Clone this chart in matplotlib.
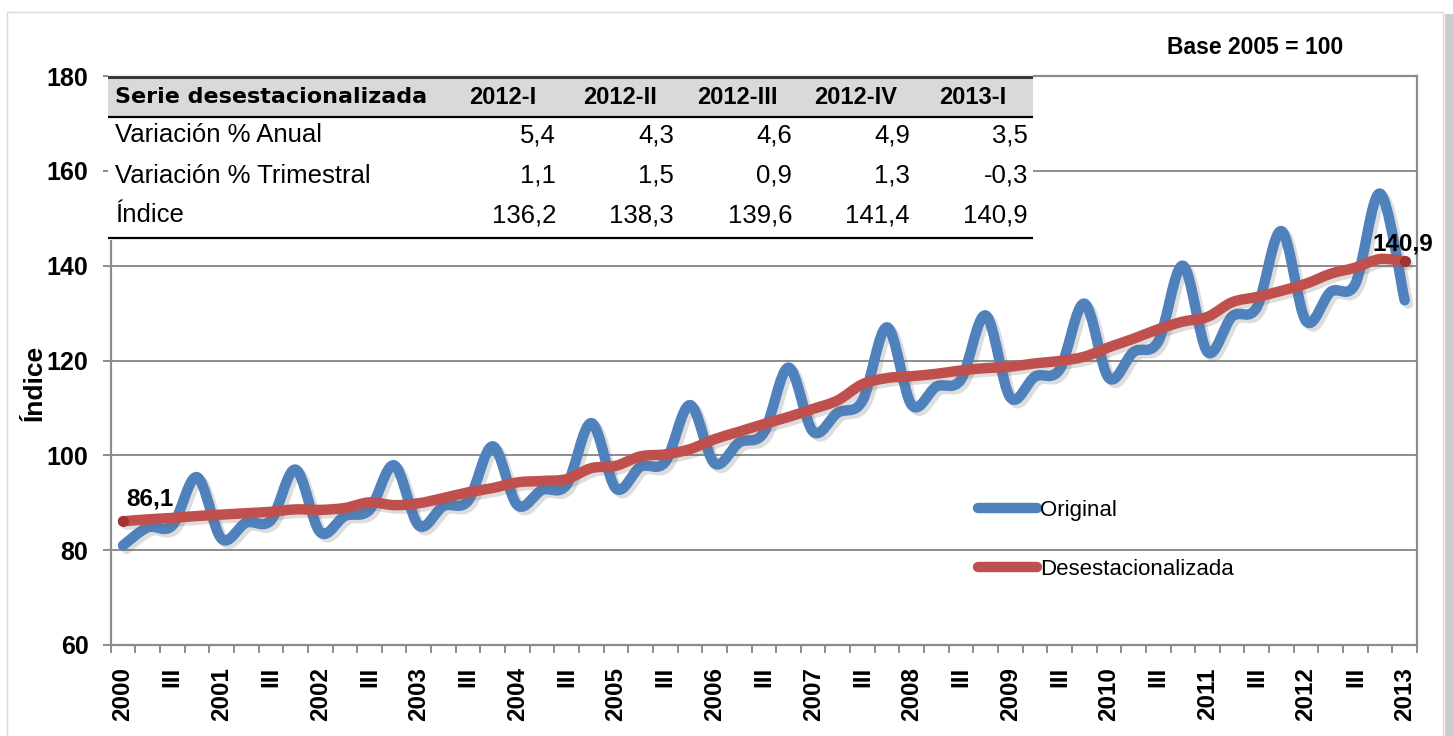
import numpy as np
import matplotlib
matplotlib.use("Agg")
import matplotlib.pyplot as plt
from matplotlib.path import Path
from matplotlib.patches import PathPatch, Rectangle
from matplotlib.lines import Line2D
import matplotlib.patheffects as pe

plt.rcParams['font.family'] = ['Liberation Sans', 'DejaVu Sans']

# quarterly series 2000-I .. 2013-I
years = list(range(2000, 2014))
original = [81.0, 84.8, 85.2, 95.4,
            82.4, 85.8, 86.3, 97.0,
            83.8, 87.2, 88.5, 97.9,
            85.2, 89.3, 90.4, 101.9,
            89.5, 92.7, 93.8, 106.8,
            93.0, 97.6, 98.6, 110.6,
            98.3, 102.7, 104.8, 118.5,
            105.0, 109.0, 111.5, 127.0,
            110.6, 114.5, 116.0, 129.5,
            112.2, 116.6, 118.1, 132.0,
            116.3, 121.8, 124.0, 140.0,
            121.8, 129.3, 131.2, 147.3,
            128.3, 134.5, 136.2, 155.2,
            132.7]
desest = [86.1, 86.5, 86.8, 87.2,
          87.5, 87.8, 88.1, 88.6,
          88.5, 88.9, 90.1, 89.5,
          89.9, 91.0, 92.2, 93.1,
          94.3, 94.6, 95.0, 97.3,
          97.8, 99.8, 100.2, 101.3,
          103.4, 105.0, 106.6, 108.1,
          109.8, 111.6, 115.0, 116.3,
          116.7, 117.2, 117.9, 118.4,
          118.7, 119.4, 119.9, 120.8,
          122.8, 124.6, 126.6, 128.2,
          129.2, 132.3, 133.4, 134.7,
          136.2, 138.3, 139.6, 141.4,
          140.9]

# table
tab_cols = ["2012-I", "2012-II", "2012-III", "2012-IV", "2013-I"]
tab_rows = ["Variación % Anual", "Variación % Trimestral", "Índice"]
tab_vals = [["5,4", "4,3", "4,6", "4,9", "3,5"],
            ["1,1", "1,5", "0,9", "1,3", "-0,3"],
            ["136,2", "138,3", "139,6", "141,4", "140,9"]]

W, H = 1453, 736
def fx(x): return x / W
def fy(y): return 1 - y / H

blue = "#4f81bd"
red = "#c0504d"
grid_c = "#8c8c8c"

fig = plt.figure(figsize=(W / 100, H / 100), dpi=100)

# outer frame
fig.patches.append(Rectangle((fx(7), fy(760)), fx(1443) - fx(7), fy(12) - fy(760),
                             transform=fig.transFigure, fill=False, ec="#d9d9d9", lw=1))
fig.patches.append(Rectangle((fx(1445), 0), fx(1453) - fx(1445), fy(14),
                             transform=fig.transFigure, fc="#cccccc", ec="none"))

ax = fig.add_axes([fx(110.7), fy(645), fx(1417) - fx(110.7), fy(76) - fy(645)])
n = len(original)
x = np.arange(n)


def smooth_path(xs, ys):
    verts = [(xs[0], ys[0])]
    codes = [Path.MOVETO]
    m = len(xs)
    for i in range(m - 1):
        xa, ya = (xs[i - 1], ys[i - 1]) if i > 0 else (xs[i], ys[i])
        xb, yb = (xs[i + 2], ys[i + 2]) if i < m - 2 else (xs[i + 1], ys[i + 1])
        c1 = (xs[i] + (xs[i + 1] - xa) / 6, ys[i] + (ys[i + 1] - ya) / 6)
        c2 = (xs[i + 1] - (xb - xs[i]) / 6, ys[i + 1] - (yb - ys[i]) / 6)
        verts += [c1, c2, (xs[i + 1], ys[i + 1])]
        codes += [Path.CURVE4] * 3
    return Path(verts, codes)


shadow = [pe.SimpleLineShadow(offset=(2.5, -2.5), shadow_color="#666666", alpha=0.22), pe.Normal()]
for ys, c in [(original, blue), (desest, red)]:
    patch = PathPatch(smooth_path(x, ys), fill=False, ec=c, lw=7.5,
                      capstyle="round", joinstyle="round", zorder=3)
    patch.set_path_effects(shadow)
    ax.add_patch(patch)

ax.plot([0, n - 1], [desest[0], desest[-1]], "o", ms=7, color="#9e3532", zorder=4)

lab = dict(fontsize=17.5, fontweight="bold", ha="center", va="center",
           textcoords="offset pixels", zorder=6)
ax.annotate(f"{desest[0]:.1f}".replace(".", ","), xy=(0, desest[0]), xytext=(27, 22), **lab)
ax.annotate(f"{desest[-1]:.1f}".replace(".", ","), xy=(n - 1, desest[-1]), xytext=(-2, 17), **lab)

ax.set_xlim(-0.5, n - 0.5)
ax.set_ylim(60, 180)
ax.set_yticks(range(60, 181, 20))
ax.yaxis.grid(True, color=grid_c, lw=1.4)
ax.set_axisbelow(True)

labels = []
for i in range(n):
    if i % 4 == 0:
        labels.append(str(years[i // 4]))
    elif i % 4 == 2:
        labels.append("III")
    else:
        labels.append("")
ax.set_xticks(x)
ax.set_xticklabels(labels, rotation=90, fontsize=17.5, fontweight="bold", va="top")
ax.set_xticks(np.arange(-0.5, n, 1), minor=True)
ax.tick_params(axis="x", which="major", length=0, pad=16)
ax.tick_params(axis="x", which="minor", length=6, width=1.4, color=grid_c)
ax.tick_params(axis="y", length=6, width=1.4, color=grid_c, pad=10, labelsize=18)
for t in ax.get_yticklabels():
    t.set_fontweight("bold")
for s in ax.spines.values():
    s.set_color(grid_c)
    s.set_linewidth(1.6)

fig.text(fx(35), fy(383), "Índice", rotation=90, fontsize=19, fontweight="bold",
         ha="center", va="center")
fig.text(fx(1255), fy(47), "Base 2005 = 100", fontsize=16.5, fontweight="bold",
         ha="center", va="center")

handles = [Line2D([], [], color=blue, lw=7.5, solid_capstyle="round"),
           Line2D([], [], color=red, lw=7.5, solid_capstyle="round")]
ax.legend(handles, ["Original", "Desestacionalizada"], loc="upper left",
          bbox_to_anchor=(fx(978), fy(500)), bbox_transform=fig.transFigure,
          frameon=False, fontsize=16, handlelength=2.65, handletextpad=0.15,
          labelspacing=1.7, borderpad=0, borderaxespad=0)

# table overlay
tax = fig.add_axes([fx(108), fy(240), fx(1033) - fx(108), fy(75) - fy(240)])
tax.set_xlim(108, 1033)
tax.set_ylim(240, 75)
tax.axis("off")
tax.add_patch(Rectangle((108, 75), 925, 165, fc="white", ec="none"))
tax.add_patch(Rectangle((108, 77), 925, 40, fc="#d9d9d9", ec="none"))
tax.plot([108, 1033], [76.5, 76.5], color="#3a3a3a", lw=2.2)
tax.plot([108, 1033], [117, 117], color="black", lw=1.6)
tax.plot([108, 1033], [238, 238], color="black", lw=1.6)

tax.text(115, 97, "Serie desestacionalizada", fontsize=16, fontweight="bold",
         family="DejaVu Sans", ha="left", va="center")
col_centers = [503, 620, 737, 856, 973]
col_right = [556, 674, 792, 910, 1028]
for c, cx in zip(tab_cols, col_centers):
    tax.text(cx, 97, c, fontsize=17, fontweight="bold", ha="center", va="center")
row_y = [135, 176, 215]
for r, ry, vals in zip(tab_rows, row_y, tab_vals):
    tax.text(115, ry, r, fontsize=18.5, ha="left", va="center")
    for v, cr in zip(vals, col_right):
        tax.text(cr, ry, v, fontsize=18.5, ha="right", va="center")

fig.savefig("out.png", dpi=100)
